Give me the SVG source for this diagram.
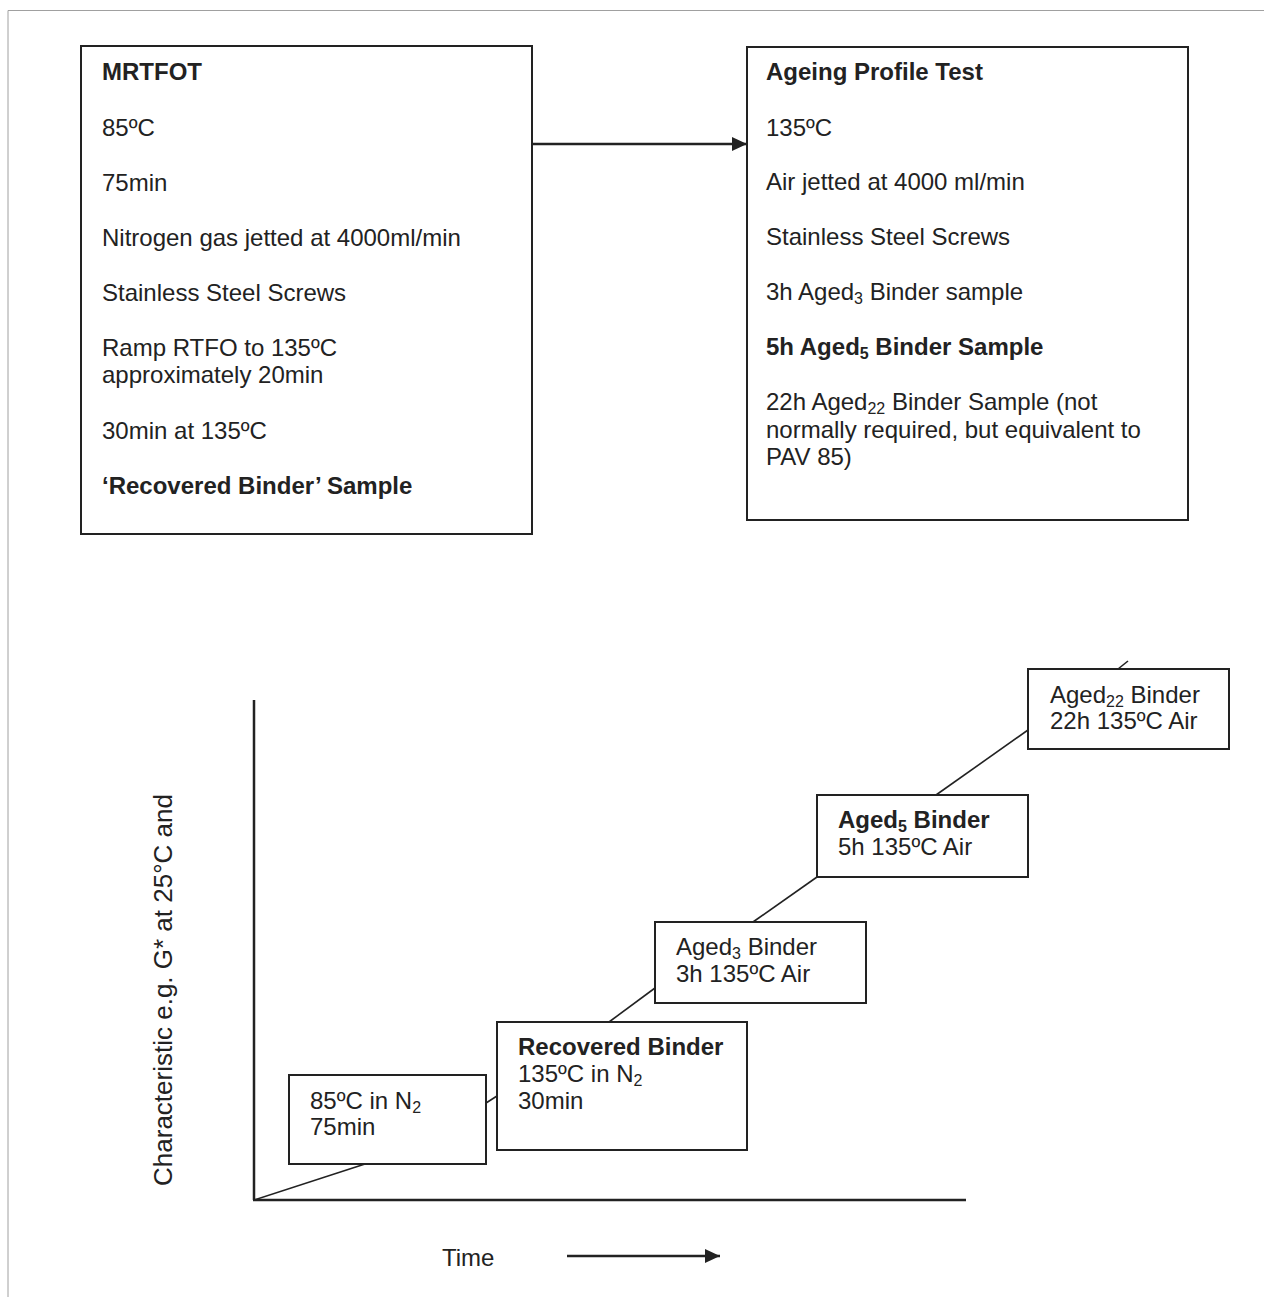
<svg xmlns="http://www.w3.org/2000/svg" width="1264" height="1297" viewBox="0 0 1264 1297">
<style>
text{font-family:"Liberation Sans",Arial,sans-serif;font-size:24px;fill:#222}
.b{font-weight:bold}
.box{fill:#fff;stroke:#222;stroke-width:2}
.ln{stroke:#222;stroke-width:1.6;fill:none}
.ax{stroke:#222;stroke-width:2.5;fill:none}
.ar{stroke:#222;stroke-width:2.5;fill:none}
.sub{font-size:16px}
</style>
<defs>
<marker id="ah" viewBox="0 0 15 14" refX="15" refY="7" markerWidth="15" markerHeight="14" markerUnits="userSpaceOnUse" orient="auto">
<path d="M0,0 L15,7 L0,14 Z" fill="#222"/>
</marker>
</defs>
<rect width="1264" height="1297" fill="#fff"/>
<g id="frame">
<line x1="8" y1="10.5" x2="1264" y2="10.5" stroke="#a0a0a0" stroke-width="1"/>
<line x1="8" y1="10.5" x2="8" y2="1297" stroke="#a0a0a0" stroke-width="1"/>
</g>
<g id="connectors">
<line class="ar" x1="532" y1="144" x2="747" y2="144" marker-end="url(#ah)"/>
<line class="ax" x1="254" y1="700" x2="254" y2="1200"/>
<line class="ax" x1="253" y1="1200" x2="966" y2="1200"/>
<line class="ln" x1="254" y1="1200" x2="365" y2="1164"/>
<line class="ln" x1="486" y1="1103" x2="497" y2="1096"/>
<line class="ln" x1="609" y1="1022" x2="655" y2="988"/>
<line class="ln" x1="753" y1="922" x2="817" y2="877"/>
<line class="ln" x1="936" y1="795" x2="1028" y2="730"/>
<line class="ln" x1="1118" y1="669" x2="1128" y2="661"/>
<line class="ar" x1="567" y1="1256" x2="720" y2="1256" marker-end="url(#ah)"/>
</g>
<g id="mrtfot">
<rect class="box" x="81" y="46" width="451" height="488"/>
<text class="b" x="102" y="80">MRTFOT</text>
<text x="102" y="136">85ºC</text>
<text x="102" y="191">75min</text>
<text x="102" y="246">Nitrogen gas jetted at 4000ml/min</text>
<text x="102" y="301">Stainless Steel Screws</text>
<text x="102" y="356">Ramp RTFO to 135ºC</text>
<text x="102" y="383">approximately 20min</text>
<text x="102" y="439">30min at 135ºC</text>
<text class="b" x="102" y="494">‘Recovered Binder’ Sample</text>
</g>
<g id="ageing-profile-test">
<rect class="box" x="747" y="47" width="441" height="473"/>
<text class="b" x="766" y="80">Ageing Profile Test</text>
<text x="766" y="136">135ºC</text>
<text x="766" y="190">Air jetted at 4000 ml/min</text>
<text x="766" y="245">Stainless Steel Screws</text>
<text x="766" y="300">3h Aged<tspan class="sub" dy="4">3</tspan><tspan dy="-4"> Binder sample</tspan></text>
<text class="b" x="766" y="355">5h Aged<tspan class="sub" dy="4">5</tspan><tspan dy="-4"> Binder Sample</tspan></text>
<text x="766" y="410">22h Aged<tspan class="sub" dy="4">22</tspan><tspan dy="-4"> Binder Sample (not</tspan></text>
<text x="766" y="438">normally required, but equivalent to</text>
<text x="766" y="465">PAV 85)</text>
</g>
<g id="n2-85">
<rect class="box" x="289" y="1075" width="197" height="89"/>
<text x="310" y="1109">85ºC in N<tspan class="sub" dy="4">2</tspan></text>
<text x="310" y="1135">75min</text>
</g>
<g id="recovered-binder">
<rect class="box" x="497" y="1022" width="250" height="128"/>
<text class="b" x="518" y="1055">Recovered Binder</text>
<text x="518" y="1082">135ºC in N<tspan class="sub" dy="4">2</tspan></text>
<text x="518" y="1109">30min</text>
</g>
<g id="aged3">
<rect class="box" x="655" y="922" width="211" height="81"/>
<text x="676" y="955">Aged<tspan class="sub" dy="4">3</tspan><tspan dy="-4"> Binder</tspan></text>
<text x="676" y="982">3h 135ºC Air</text>
</g>
<g id="aged5">
<rect class="box" x="817" y="795" width="211" height="82"/>
<text class="b" x="838" y="828">Aged<tspan class="sub" dy="4">5</tspan><tspan dy="-4"> Binder</tspan></text>
<text x="838" y="855">5h 135ºC Air</text>
</g>
<g id="aged22">
<rect class="box" x="1028" y="669" width="201" height="80"/>
<text x="1050" y="703">Aged<tspan class="sub" dy="4">22</tspan><tspan dy="-4"> Binder</tspan></text>
<text x="1050" y="729">22h 135ºC Air</text>
</g>
<g id="axis-labels">
<text x="0" y="0" style="font-size:26px" text-anchor="middle" transform="translate(172,990) rotate(-90)">Characteristic e.g. G* at 25°C and</text>
<text x="442" y="1266">Time</text>
</g>
</svg>
